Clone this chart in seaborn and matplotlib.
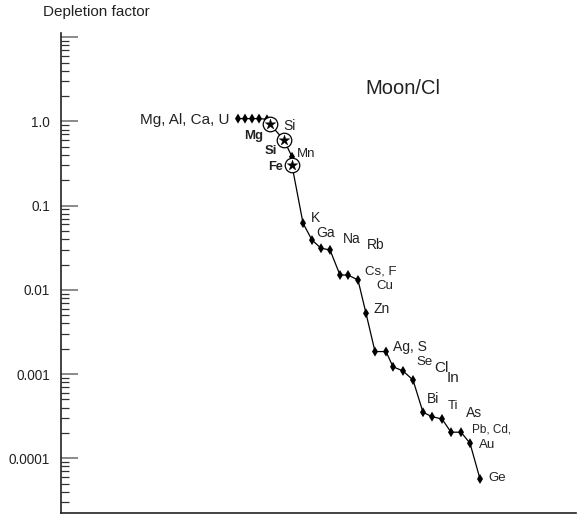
import matplotlib
matplotlib.use("Agg")
import matplotlib.pyplot as plt
import matplotlib.ticker as mticker
import numpy as np
import pandas as pd
import seaborn as sns

# ---------------- data ----------------
# sequence position (arbitrary ordering axis) and depletion factor
diamond_elems = ["Mg", "Al", "Ca", "U", "Si", "Mn", "K", "Ga", "Na", "Rb",
                 "Cs", "F", "Cu", "Zn", "Ag", "S", "Se", "Cl", "In",
                 "Bi", "Ti", "As", "Pb", "Cd", "Au", "Ge"]
diamond_pos = [177, 184, 191, 198, 206, 231, 242, 251, 260, 269,
               279, 287, 297, 305, 314, 325, 332, 342, 352,
               362, 371, 381, 390, 400, 409, 419]
diamond_val = [1.08, 1.08, 1.08, 1.08, 1.06, 0.38, 0.062, 0.039, 0.0312, 0.0298,
               0.0150, 0.0150, 0.0131, 0.00527, 0.00185, 0.00185, 0.00122, 0.00109, 0.00085,
               0.000352, 0.000312, 0.000293, 0.000204, 0.000204, 0.000151, 0.0000568]

star_elems = ["Mg", "Si", "Fe"]
star_pos = [209, 223, 231]
star_val = [0.93, 0.60, 0.30]

# line path order
path_elems = ["Mg", "Al", "Ca", "U", "Si", "Mg*", "Si*", "Mn", "Fe*", "K", "Ga", "Na", "Rb",
              "Cs", "F", "Cu", "Zn", "Ag", "S", "Se", "Cl", "In",
              "Bi", "Ti", "As", "Pb", "Cd", "Au", "Ge"]

ytick_vals = [1.0, 0.1, 0.01, 0.001, 0.0001]
ytick_labels = ["1.0", "0.1", "0.01", "0.001", "0.0001"]

# ---------------- build frames ----------------
dia = pd.DataFrame({"elem": diamond_elems, "x": diamond_pos, "y": diamond_val})
sta = pd.DataFrame({"elem": [e + "*" for e in star_elems], "x": star_pos, "y": star_val})
allpts = pd.concat([dia, sta]).set_index("elem")
path = allpts.loc[path_elems].reset_index()

# ---------------- figure ----------------
W, H, DPI = 577, 516, 100
sns.set_style("ticks")
plt.rcParams["font.family"] = ["Liberation Sans", "DejaVu Sans"]
fig = plt.figure(figsize=(W / DPI, H / DPI), dpi=DPI)
ax = fig.add_axes([61 / W, 1 - 513 / H, (576 - 61) / W, (513 - 33) / H])

sns.lineplot(data=path, x="x", y="y", sort=False, color="black", linewidth=0.9,
             ax=ax, estimator=None, zorder=2)
sns.scatterplot(data=dia, x="x", y="y", marker="d", s=26, color="black",
                edgecolor="none", linewidth=0, ax=ax, zorder=3)
sns.scatterplot(data=sta, x="x", y="y", marker="o", s=110, facecolor="white",
                edgecolor="black", linewidth=0.9, ax=ax, zorder=4)
sns.scatterplot(data=sta, x="x", y="y", marker="*", s=62, color="black",
                edgecolor="black", linewidth=0.3, ax=ax, zorder=5)

ax.set_yscale("log")
ax.set_ylim(2.24e-5, 10 ** 1.05)
ax.set_xlim(0, 515)
ax.set_xlabel("")
ax.set_ylabel("")
ax.set_xticks([])
ax.yaxis.set_major_locator(mticker.FixedLocator(ytick_vals + [10.0]))
ax.yaxis.set_major_formatter(mticker.FixedFormatter(ytick_labels + [""]))
ax.yaxis.set_minor_locator(mticker.LogLocator(base=10, subs=np.arange(2, 10), numticks=20))
ax.yaxis.set_minor_formatter(mticker.NullFormatter())
ax.tick_params(axis="y", which="major", direction="in", length=12, width=1.2,
               color="#777777", labelsize=9.8, pad=8, labelcolor="#222222")
ax.tick_params(axis="y", which="minor", direction="in", length=6, width=0.9,
               color="#333333")
for s in ["top", "right"]:
    ax.spines[s].set_visible(False)
for s in ["left", "bottom"]:
    ax.spines[s].set_color("#222222")
    ax.spines[s].set_linewidth(1.2)

# ---------------- text ----------------
def ftext(px, py, s, size=10, ha="left", weight="normal"):
    fig.text(px / W, 1 - py / H, s, fontsize=size, ha=ha, va="center",
             fontweight=weight, color="#222222")

ftext(96, 12, "Depletion factor", size=11, ha="center")
ftext(365, 89, "Moon/Cl", size=14.5)
ftext(229, 120, "Mg, Al, Ca, U", size=11, ha="right")
ftext(283, 126, "Si", size=10)
ftext(263, 136, "Mg", size=9.5, ha="right", weight="bold")
ftext(265, 151, "Si", size=9.5, weight="bold")
ftext(297, 154, "Mn", size=9.5)
ftext(268, 167, "Fe", size=9.2, weight="bold")
ftext(311, 218, "K")
ftext(316, 233, "Ga")
ftext(343, 239, "Na")
ftext(367, 245, "Rb")
ftext(365, 271, "Cs, F", size=9.5)
ftext(376, 286, "Cu", size=9.5)
ftext(374, 309, "Zn")
ftext(393, 347, "Ag, S")
ftext(416, 362, "Se", size=9.5)
ftext(434, 368, "Cl", size=11)
ftext(447, 378, "In", size=11)
ftext(427, 399, "Bi")
ftext(448, 406, "Ti", size=9.5)
ftext(466, 413, "As")
ftext(472, 429, "Pb, Cd,", size=8.5)
ftext(479, 445, "Au", size=9.5)
ftext(488, 478, "Ge", size=9.5)

fig.savefig("out.png", dpi=DPI)
